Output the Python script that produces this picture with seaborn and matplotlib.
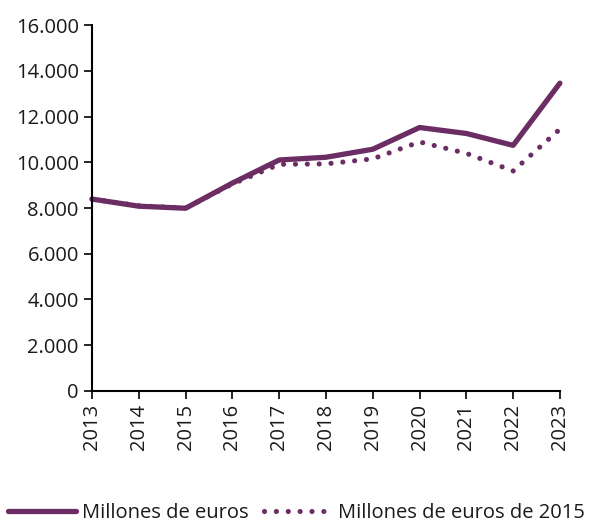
import pandas as pd
import matplotlib.pyplot as plt
import matplotlib.ticker as mticker
import seaborn as sns

years = list(range(2013, 2024))
nominal = [8390, 8080, 7990, 9090, 10100, 10220, 10570, 11520, 11260, 10740, 13460]
real_2015 = [8390, 8100, 8000, 9050, 9910, 9930, 10150, 10890, 10390, 9620, 11450]

df = pd.DataFrame({
    'year': years * 2,
    'value': nominal + real_2015,
    'serie': ['Millones de euros'] * len(years) + ['Millones de euros de 2015'] * len(years),
})

sns.set_style('white')
plt.rcParams['font.family'] = ['Open Sans', 'DejaVu Sans']

color = '#6b2d63'
fig = plt.figure(figsize=(5.9, 5.22), dpi=100)
ax = fig.add_axes([0.156, 0.251, 0.793, 0.701])

solid = df[df['serie'] == 'Millones de euros']
dotted = df[df['serie'] == 'Millones de euros de 2015']
sns.lineplot(data=solid, x='year', y='value', ax=ax, color=color, linewidth=3.8,
             label='Millones de euros', clip_on=False)
sns.lineplot(data=dotted, x='year', y='value', ax=ax, color=color, linewidth=3.7,
             linestyle=(0, (0.01, 2.3)), dash_capstyle='round',
             label='Millones de euros de 2015', clip_on=False)

ax.set_xlim(2013, 2023)
ax.set_ylim(0, 16000)
ax.set_xticks(years)
ax.set_xticklabels([str(y) for y in years], rotation=90)
ax.yaxis.set_major_locator(mticker.MultipleLocator(2000))
ax.yaxis.set_major_formatter(mticker.FuncFormatter(lambda v, p: f'{int(v):,}'.replace(',', '.')))
ax.tick_params(axis='both', labelsize=14.5, length=6, width=1.2, color='black',
               direction='out', bottom=True, left=True, labelcolor='#1a1a1a')
ax.set_xlabel('')
ax.set_ylabel('')
for s in ['top', 'right']:
    ax.spines[s].set_visible(False)
for s in ['left', 'bottom']:
    ax.spines[s].set_color('black')
    ax.spines[s].set_linewidth(1.5)

ax.legend(loc='lower center', bbox_to_anchor=(0.437, -0.41), ncol=2, frameon=False,
          fontsize=14.5, handlelength=3.4, handletextpad=0.3, columnspacing=0.75,
          labelcolor='#1a1a1a')

plt.savefig('out.png', dpi=100)
